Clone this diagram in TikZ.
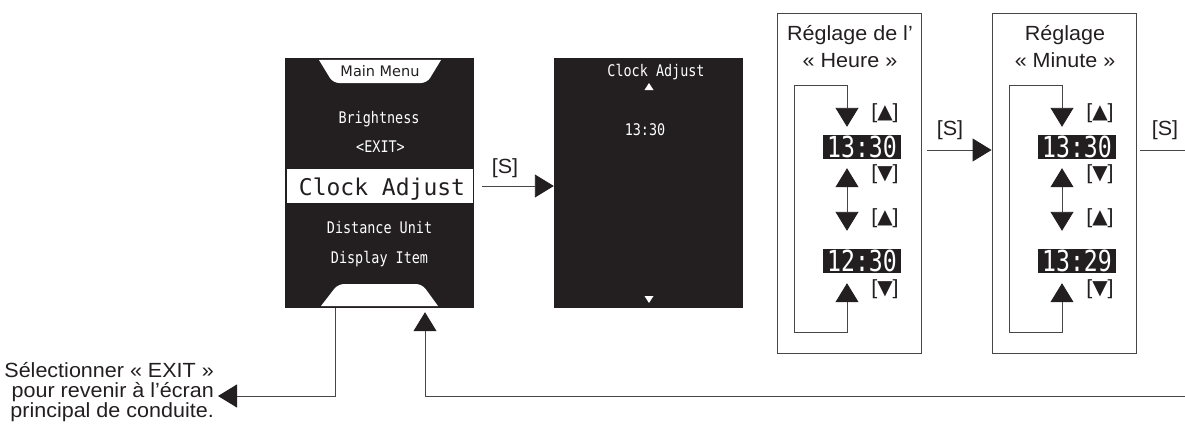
\documentclass[tikz,border=0pt]{standalone}
\usepackage{fontspec}
\setmainfont{Liberation Sans}
\newfontfamily\lab[FakeStretch=1.05]{Liberation Sans}
\newfontfamily\lcd[FakeStretch=0.84]{DejaVu Sans Mono}
\newfontfamily\lcdbig{DejaVu Sans Mono}
\newfontfamily\lcddig[FakeStretch=0.8]{DejaVu Sans Mono}
\newfontfamily\rnd{DejaVu Sans}
\newcommand\tup{{\rnd\fontsize{20}{20}\selectfont ▲}}
\newcommand\tdn{{\rnd\fontsize{20}{20}\selectfont ▼}}
\usetikzlibrary{arrows.meta}
\definecolor{scr}{RGB}{35,31,32}
\definecolor{ink}{RGB}{35,31,32}
\definecolor{ln}{RGB}{70,70,70}
\begin{document}
\begin{tikzpicture}[x=1pt,y=-1pt,
 screen/.style={fill=scr, minimum width=189pt, minimum height=250pt, inner sep=0, draw=none},
 panel/.style={draw=ln, line width=0.9pt, minimum width=144pt, minimum height=340pt, inner sep=0},
 lcdtxt/.style={font=\lcd\fontsize{16}{18}\selectfont, text=white, anchor=base, inner sep=0},
 digbox/.style={fill=scr, text=white, minimum width=78pt, minimum height=24pt, inner sep=0, font=\lcddig\fontsize{29}{29}\selectfont},
 lbl/.style={font=\lab\fontsize{20.5}{21}\selectfont, text=ink, anchor=base, inner sep=0},
 conn/.style={draw=ln, line width=0.9pt},
 tip/.tip={Triangle[width=23pt,length=19pt,color=ink]},
 arr/.style={conn, -tip},
 barr/.style={conn, tip-tip},
]
\useasboundingbox (0,0) rectangle (1185,428);

% ---------- screen 1: main menu ----------
\node[screen] (m1) at (379.5,183) {};
\fill[white, rounded corners=6pt] (319,60) -- (333,83) -- (427,83) -- (441,60);
\node[font=\rnd\fontsize{14.5}{14.5}\selectfont, text=scr, anchor=base, inner sep=0] (mm) at (380,76.5) {Main Menu};
\node[lcdtxt] (br) at (379,123) {Brightness};
\node[lcdtxt] (ex) at (380.5,152) {<EXIT>};
\node[fill=white, minimum width=186pt, minimum height=34pt, inner sep=0] (ca) at (380,186) {};
\node[font=\lcdbig\fontsize{23}{23}\selectfont, text=scr, anchor=base, inner sep=0] (cat) at (382,195) {Clock Adjust};
\node[lcdtxt] (du) at (379.5,233) {Distance Unit};
\node[lcdtxt] (di) at (379.5,263) {Display Item};
\fill[white, rounded corners=6pt] (321,306) -- (338,284) -- (422,284) -- (438,306);

% ---------- screen 2: clock adjust ----------
\node[screen] (m2) at (648.5,183) {};
\node[lcdtxt] (c2) at (656,77) {Clock Adjust};
\fill[white] (644.5,90) -- (653.5,90) -- (649,83) -- cycle;
\node[lcdtxt] (t2) at (645,135) {13:30};
\fill[white] (644.5,296) -- (653.5,296) -- (649,303) -- cycle;

\draw[arr, shorten <=8pt] (m1.east |- ca) -- (m2.west |- ca);
\node[lbl] (s1) at (505,173) {[S]};

% ---------- panel: heure ----------
\node[panel] (hb) at (849,183) {};
\node[lbl] (ht1) at (850,41) {Réglage de l’};
\node[lbl] (ht2) at (850,67) {« Heure »};
\node[digbox] (h1) at (862,147) {13:30};
\node[digbox] (h2) at (862,261) {12:30};
\coordinate (hx) at (847,0);
\coordinate (htl) at (794,85);
\coordinate (hbl) at (794,332);
\draw[barr, shorten <=9pt, shorten >=18pt] (h1.south -| hx) -- (h2.north -| hx);
\draw[barr, shorten <=10pt, shorten >=8pt] (h2.south -| hx) -- (hx |- hbl) -- (hbl) -- (htl) -- (hx |- htl) -- (h1.north -| hx);
\node[lbl] (hk1) at (885,118) {[\tup]};
\node[lbl] (hk2) at (885,179) {[\tdn]};
\node[lbl] (hk3) at (885,223) {[\tup]};
\node[lbl] (hk4) at (885,294) {[\tdn]};

% ---------- panel: minute ----------
\node[panel] (mb) at (1064,183) {};
\node[lbl] (mt1) at (1065,41) {Réglage};
\node[lbl] (mt2) at (1065,67) {« Minute »};
\node[digbox] (n1) at (1077,147) {13:30};
\node[digbox] (n2) at (1077,261) {13:29};
\coordinate (mx) at (1062,0);
\coordinate (mtl) at (1009,85);
\coordinate (mbl) at (1009,332);
\draw[barr, shorten <=9pt, shorten >=18pt] (n1.south -| mx) -- (n2.north -| mx);
\draw[barr, shorten <=10pt, shorten >=8pt] (n2.south -| mx) -- (mx |- mbl) -- (mbl) -- (mtl) -- (mx |- mtl) -- (n1.north -| mx);
\node[lbl] (mk1) at (1100,118) {[\tup]};
\node[lbl] (mk2) at (1100,179) {[\tdn]};
\node[lbl] (mk3) at (1100,223) {[\tup]};
\node[lbl] (mk4) at (1100,294) {[\tdn]};

% ---------- [S] transitions ----------
\coordinate (sy) at (0,150);
\coordinate (rt) at (1185,150);
\draw[arr, shorten <=6pt] (hb.east |- sy) -- (mb.west |- sy);
\node[lbl] (s2) at (950,135) {[S]};
\draw[conn, shorten <=4pt] (mb.east |- sy) -- (rt);
\node[lbl] (s3) at (1165,135) {[S]};

% ---------- return paths ----------
\coordinate (exv) at (335,396);
\coordinate (exitpt) at (218,396);
\coordinate (ret) at (1185,396);
\coordinate (rx) at (425,0);
\draw[arr] (m1.south -| exv) -- (exv) -- (exitpt);
\draw[arr, shorten >=4pt] (ret) -- (ret -| rx) -- (m1.south -| rx);
\node[lbl, anchor=base east] (e1) at (214,377) {Sélectionner « EXIT »};
\node[lbl, anchor=base east] (e2) at (214,397) {pour revenir à l’écran};
\node[lbl, anchor=base east] (e3) at (214,417) {principal de conduite.};
\end{tikzpicture}
\end{document}
